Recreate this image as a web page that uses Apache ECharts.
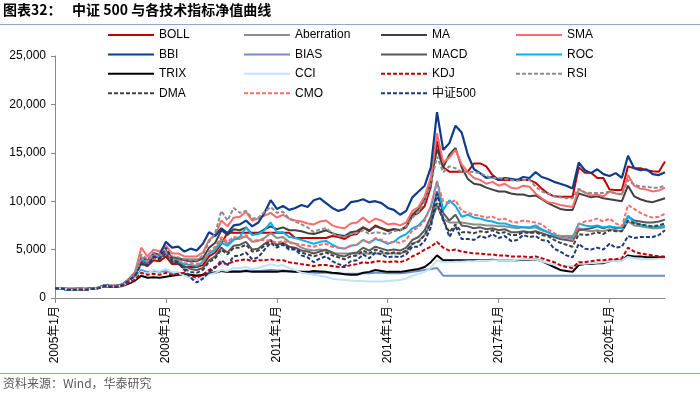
<!DOCTYPE html>
<html><head><meta charset="utf-8">
<script src="https://cdn.jsdelivr.net/npm/echarts@6/dist/echarts.min.js"></script>
<style>html,body{margin:0;padding:0;background:#fff}#c{width:700px;height:395px}</style>
</head><body><div id="c"></div>
<script>
// bimonthly categories 2005年1月 ... 2021年7月
const categories = [];
for (let y = 2005; y <= 2021; y++) {
  for (let m = 1; m <= 11; m += 2) {
    if (y === 2021 && m > 7) break;
    categories.push(y + '年' + m + '月');
  }
}
const yTickLabels = ['0', '5,000', '10,000', '15,000', '20,000', '25,000'];

const boll = [
1000,990,900,880,920,900,
1000,1060,1300,1250,1260,1400,
1900,2400,3600,3300,3900,3800,
4300,3500,3500,3200,3200,3200,
3400,4300,4700,5600,6750,6750,
6750,6750,6750,6750,6750,6750,
6750,6750,6750,6200,6200,6200,
6200,6200,6200,6400,6300,6100,
6500,6600,7300,6900,7500,7200,
7000,7100,7000,7300,8500,8800,
9500,11500,16200,13500,13050,13050,
13050,13050,13900,13900,13600,12700,
12200,12200,12200,12200,12200,12200,
11900,11300,10800,10500,10460,10460,
10460,13500,12950,12950,12400,12400,
11200,11160,11160,13600,13400,13400,
13200,13100,13050,14100];
const aberration = [
1000,1000,1000,1000,1000,1000,
1000,1050,1300,1250,1260,1400,
1900,2500,4100,3800,4400,4200,
4700,4000,4000,4000,4000,4000,
4000,4600,5000,6100,5600,6100,
6100,6400,5800,5900,6200,6700,
6200,6300,5800,5600,5200,5000,
4900,5000,4900,4600,4600,4600,
4600,4600,4600,4600,4600,4600,
4600,4600,4600,4800,5600,5900,
6500,7800,9500,8200,7800,7800,
7800,7700,7600,7600,7500,7500,
7400,7400,7300,7200,7300,7200,
7300,7000,6800,6500,6400,6400,
6400,7200,7000,6900,7000,6900,
7100,7000,6900,7900,7500,7400,
7300,7200,7200,7300];
const ma = [
1000,990,870,860,900,880,
980,1050,1290,1250,1250,1400,
1900,2500,4200,3900,4500,4400,
4900,4200,4100,3900,3800,3800,
4100,5200,5700,7000,6500,7100,
7000,7300,6600,6700,7100,7400,
7100,7300,7000,7000,6900,6700,
6600,6800,7000,6700,6500,6400,
6800,6900,7300,7000,7400,7200,
6900,7100,7000,7400,8600,9200,
10200,12000,15400,13500,14800,15500,
13500,12300,11800,11700,11400,11200,
11000,11000,10800,10700,10700,10500,
10600,10200,9800,9500,9200,9100,
9100,10800,10600,10400,10500,10300,
10200,10100,10000,11600,10500,10200,
10000,9900,10100,10300];
const sma = [
1000,1000,880,870,920,900,
1000,1070,1320,1280,1280,1450,
2000,2700,5200,4300,5000,4800,
5400,4600,4600,4300,4300,4300,
4700,6000,6500,8000,7400,8300,
8400,8900,8000,8200,8500,8800,
8300,8600,8200,8000,7900,7700,
7600,7900,8000,7500,7300,7200,
7700,7800,8300,7800,8200,8000,
7600,7700,7500,7800,9000,9400,
10500,12500,17000,14000,14500,15300,
13800,13000,12400,12200,11800,12000,
11600,11800,11400,11300,11600,11500,
10800,10300,9900,9800,9600,9500,
9400,11200,10900,10600,10700,10500,
11000,10800,10700,12700,11600,11300,
11200,11000,11100,11400];
const bbi = [
1000,990,880,860,900,880,
980,1050,1300,1250,1250,1400,
1900,2500,3800,3700,4600,4500,
5800,5200,5300,4800,5100,4900,
5600,6800,6400,7200,6700,7500,
7600,8000,7400,7800,8800,10100,
9200,9500,9100,9300,9600,9400,
10100,10300,9800,9300,9000,9200,
9900,10000,10200,9900,10000,9800,
9300,9100,8600,9000,10400,11000,
11600,13500,19200,15300,16000,17800,
17100,14800,13300,12900,12400,12500,
12200,12400,12300,12200,12500,12400,
13000,12500,12300,12000,11800,11600,
11300,14000,13200,12900,13300,12800,
12600,12900,12400,14700,13400,13200,
13300,12800,12700,13000];
const bias = [
1000,1000,890,870,910,890,
990,1040,1250,1200,1210,1330,
1700,2100,2900,2700,2800,2700,
2800,2600,2600,2500,2400,2300,
2400,2600,2700,2800,2700,2800,
2800,2850,2800,2800,2850,2900,
2850,2850,2800,2750,2700,2650,
2600,2600,2600,2550,2500,2500,
2500,2500,2550,2550,2600,2600,
2550,2550,2550,2600,2700,2800,
2900,3000,3100,2300,2300,2300,
2300,2300,2300,2300,2300,2300,
2300,2300,2300,2300,2300,2300,
2300,2300,2300,2300,2300,2300,
2300,2300,2300,2300,2300,2300,
2300,2300,2300,2300,2300,2300,
2300,2300,2300,2300];
const macd = [
1000,990,860,850,890,870,
970,1030,1270,1220,1230,1370,
1850,2400,3900,3600,4300,4100,
4700,3800,3600,3300,3000,2900,
3100,3900,4300,5200,4700,5400,
5500,5800,5000,5100,5600,6000,
5500,5700,5300,5200,4900,4800,
4600,4800,5000,4700,4400,4300,
4600,4700,5200,4900,5300,5100,
4900,5000,4900,5200,6000,6300,
7000,8400,11000,8800,8000,8600,
7500,7400,7200,7300,7100,7200,
7000,7100,6800,6800,6900,6800,
6900,6700,6500,6300,6100,6000,
5900,7000,7100,7200,7400,7200,
7400,7200,7300,8400,8000,7900,
7800,7800,7900,8100];
const roc = [
1000,990,860,850,900,870,
970,1030,1280,1230,1240,1380,
1850,2500,4000,3700,4400,4200,
4600,3900,3800,3500,3400,3300,
3700,4600,5000,5700,5400,6000,
6300,7300,6500,6600,7000,7800,
6800,6800,6300,6200,6000,5800,
5600,5800,5900,5500,5200,5100,
5400,5500,6000,5700,6100,5900,
5600,5800,6300,6600,7200,7500,
8200,9400,12100,9100,10100,9500,
8400,8600,8300,8200,8000,7900,
7700,7700,7500,7400,7300,7300,
7500,7100,6800,6500,6300,6200,
6200,7700,7500,7400,7500,7300,
7400,7300,7200,8500,7800,7600,
7400,7300,7350,7450];
const trix = [
1000,1000,940,930,950,940,
1000,1040,1200,1160,1160,1250,
1500,1800,2300,2100,2150,2100,
2200,2300,2400,2400,2400,2300,
2400,2500,2600,2800,2700,2700,
2700,2800,2700,2700,2700,2700,
2700,2800,2750,2700,2700,2700,
2800,2750,2700,2600,2550,2450,
2400,2400,2600,2700,2900,2800,
2700,2700,2700,2800,2900,3000,
3200,3700,4400,3900,3900,3900,
3900,3900,3900,3900,3900,3950,
3900,3900,3900,3900,3950,3950,
4000,3800,3500,3200,2900,2800,
2700,3400,3500,3500,3600,3600,
3800,3900,3900,4400,4300,4300,
4200,4200,4200,4200];
const cci = [
1000,1000,900,880,920,900,
980,1030,1230,1190,1200,1300,
1650,2000,2700,2500,2900,2800,
3000,2700,2600,2300,2100,2000,
2100,2400,2600,2900,2800,3100,
3100,3200,3000,3100,3300,3500,
3300,3400,3100,2900,2600,2500,
2400,2300,2200,2000,1900,1850,
1800,1750,1750,1700,1700,1700,
1750,1800,1850,2000,2300,2500,
2700,3100,3900,3700,3700,3750,
3750,3800,3800,3850,3850,3900,
3900,3900,3900,3950,4000,4000,
4000,3800,3600,3450,3350,3300,
3300,3550,3550,3600,3650,3700,
3800,3850,3900,4250,4100,4000,
4000,4000,4050,4060];
const kdj = [
1000,990,870,850,890,870,
960,1010,1200,1150,1160,1280,
1600,1900,2600,2400,2500,2400,
2600,2400,2500,2600,2300,2100,
2400,2900,3200,3600,3500,3800,
3900,4000,3800,3900,3900,4000,
3900,3900,3700,3600,3500,3400,
3300,3400,3400,3300,3200,3200,
3400,3500,3700,3600,3800,3800,
3700,3800,3700,3900,4300,4600,
5000,5300,5800,5200,4900,5000,
4800,4700,4600,4600,4500,4500,
4400,4400,4300,4300,4300,4200,
4300,4100,3900,3700,3400,3200,
3100,3700,3700,3800,3900,3900,
4000,4000,4100,5200,4800,4600,
4500,4400,4300,4300];
const rsi = [
1000,1000,880,870,910,890,
990,1060,1310,1260,1270,1420,
1950,2600,4500,4000,4700,4500,
5000,4300,4200,4000,3900,3900,
4400,5800,6700,9000,8000,9300,
8800,9000,8200,8300,8900,9400,
8800,8900,8200,7900,7600,7300,
6800,7100,7200,6700,6400,6300,
6600,6700,7000,6600,6800,6700,
6600,6900,7000,7400,8300,8900,
10000,11800,14600,13000,13600,13400,
13000,13050,13000,12900,12600,12400,
12400,12300,12200,12100,12200,12200,
11500,11000,10800,10500,10400,10300,
10300,11300,10900,10850,10850,10850,
11000,10800,10700,12200,11700,11500,
11500,11400,11400,11600];
const dma = [
1000,990,860,850,890,870,
960,1020,1260,1210,1220,1360,
1800,2300,3700,3400,4200,4000,
4600,3700,3500,3000,2700,2600,
2900,3700,4100,5000,4500,5200,
5200,5500,4800,4900,5400,5900,
5400,5600,5200,5100,4700,4500,
4300,4500,4700,4400,4200,4000,
4300,4400,4900,4600,5000,4800,
4600,4700,4600,4900,5600,5800,
6500,7800,9800,8000,6800,7600,
6800,6800,6700,6900,6800,7000,
6700,6800,6500,6500,6800,6700,
6800,6500,6400,6000,5700,5500,
5300,6600,6500,6600,6800,6600,
7000,6900,6900,8000,7700,7600,
7500,7400,7500,7700];
const cmo = [
1000,990,870,860,900,880,
980,1040,1280,1240,1240,1380,
1850,2400,4200,3800,4500,4300,
4800,4000,3900,3600,3600,3500,
3800,4800,5300,6300,5800,6300,
6200,6500,5900,6000,6000,5900,
5700,5900,5700,5600,5500,5400,
5300,5500,5600,5300,5200,5100,
5400,5500,6000,5700,6200,6000,
5700,5800,5700,6000,7000,7300,
8000,9500,12000,10000,9800,10100,
9000,8800,8600,8500,8300,8400,
8100,8200,7900,7800,8000,7900,
7800,7600,7100,6700,6400,6200,
6000,7600,7900,8000,8200,7900,
8200,7700,7400,9600,9200,8800,
8500,8300,8400,8700];
const csi500 = [
1000,980,850,830,880,850,
950,1000,1250,1200,1200,1350,
1800,2300,3500,3300,4300,4100,
5200,4000,3700,2900,2100,1600,
2000,2700,3100,3900,3400,4300,
4400,4700,4000,4200,5000,5700,
5200,5500,5000,5000,4400,4200,
3700,4100,4300,3800,3500,3300,
3800,3900,4500,4100,4700,4500,
4200,4300,4200,4500,5300,5300,
5900,7300,10800,8200,6300,7400,
6100,6100,6000,6400,6200,6600,
6200,6400,5900,6000,6500,6300,
6400,6000,5900,5100,4800,4400,
4200,5600,5100,5000,5200,5000,
5600,5200,5300,6400,6200,6300,
6300,6300,6500,7000];

const defs = [
  ['BOLL', boll, '#C00000', false, 2],
  ['Aberration', aberration, '#8C8C8C', false, 2],
  ['MA', ma, '#404040', false, 2],
  ['SMA', sma, '#FF6B6B', false, 2],
  ['BBI', bbi, '#0F3B8C', false, 2.2],
  ['BIAS', bias, '#6E8FC6', false, 2],
  ['MACD', macd, '#595959', false, 2],
  ['ROC', roc, '#00B0F0', false, 2],
  ['TRIX', trix, '#000000', false, 2],
  ['CCI', cci, '#BFE4F8', false, 2],
  ['KDJ', kdj, '#C00000', true, 2],
  ['RSI', rsi, '#8C8C8C', true, 2],
  ['DMA', dma, '#404040', true, 2],
  ['CMO', cmo, '#FF6B6B', true, 2],
  ['中证500', csi500, '#1F3A7A', true, 2]
];

const FONT = '"Liberation Sans", Arial, "Noto Sans CJK SC", sans-serif';
const series = defs.map(d => ({
  name: d[0], type: 'line', data: d[1], symbol: 'none', showSymbol: false,
  color: d[2],
  lineStyle: { color: d[2], width: d[4], type: d[3] ? [4, 2] : 'solid' },
  itemStyle: { color: d[2] },
  emphasis: { disabled: true }
}));

function legendCol(names, left) {
  return {
    data: names, left: left, top: 28, orient: 'vertical', padding: 0,
    itemWidth: 46, itemHeight: 14, itemGap: 5.4, selectedMode: false,
    itemStyle: { opacity: 0 },
    textStyle: { fontSize: 12, color: '#000', fontFamily: FONT, lineHeight: 14 }
  };
}

const chart = echarts.init(document.getElementById('c'), null, { renderer: 'canvas' });
chart.setOption({
  animation: false,
  backgroundColor: '#fff',
  grid: { left: 55, right: 35, top: 56, bottom: 97, containLabel: false, outerBoundsMode: 'none' },
  legend: [
    legendCol(['BOLL', 'BBI', 'TRIX', 'DMA'], 107),
    legendCol(['Aberration', 'BIAS', 'CCI', 'CMO'], 243),
    legendCol(['MA', 'MACD', 'KDJ', '中证500'], 380),
    legendCol(['SMA', 'ROC', 'RSI'], 515)
  ],
  xAxis: {
    type: 'category', data: categories, boundaryGap: false,
    axisLine: { lineStyle: { color: '#898989', width: 1 } },
    axisTick: { show: true, interval: 17, length: 5, lineStyle: { color: '#898989' } },
    axisLabel: { interval: 17, rotate: 90, fontSize: 12, color: '#000', fontFamily: FONT, margin: 8 },
    splitLine: { show: false }
  },
  yAxis: {
    type: 'value', min: 0, max: 25000, interval: 5000,
    axisLine: { show: true, lineStyle: { color: '#898989', width: 1 } },
    axisTick: { show: true, length: 4, lineStyle: { color: '#898989' } },
    axisLabel: { fontSize: 12, color: '#000', fontFamily: FONT, margin: 9,
      formatter: v => yTickLabels[Math.round(v / 5000)] },
    splitLine: { show: false }
  },
  series: series,
  graphic: [
    { type: 'text', left: 3, top: 3, style: { text: '图表32：', fontSize: 14, fontWeight: 'bold', fill: '#000', fontFamily: '"Noto Sans CJK SC", sans-serif' } },
    { type: 'text', left: 72, top: 3, style: { text: '中证 500 与各技术指标净值曲线', fontSize: 14, fontWeight: 'bold', fill: '#000', fontFamily: '"Noto Sans CJK SC", sans-serif' } },
    { type: 'line', shape: { x1: 0, y1: 24.5, x2: 700, y2: 24.5 }, style: { stroke: '#8EAAD0', lineWidth: 1 } },
    { type: 'line', shape: { x1: 0, y1: 373.5, x2: 700, y2: 373.5 }, style: { stroke: '#8EAAD0', lineWidth: 1 } },
    { type: 'text', left: 3, top: 377, style: { text: '资料来源：Wind，华泰研究', fontSize: 12, fill: '#595959', fontFamily: '"Noto Sans CJK SC", sans-serif' } }
  ]
});
</script></body></html>
